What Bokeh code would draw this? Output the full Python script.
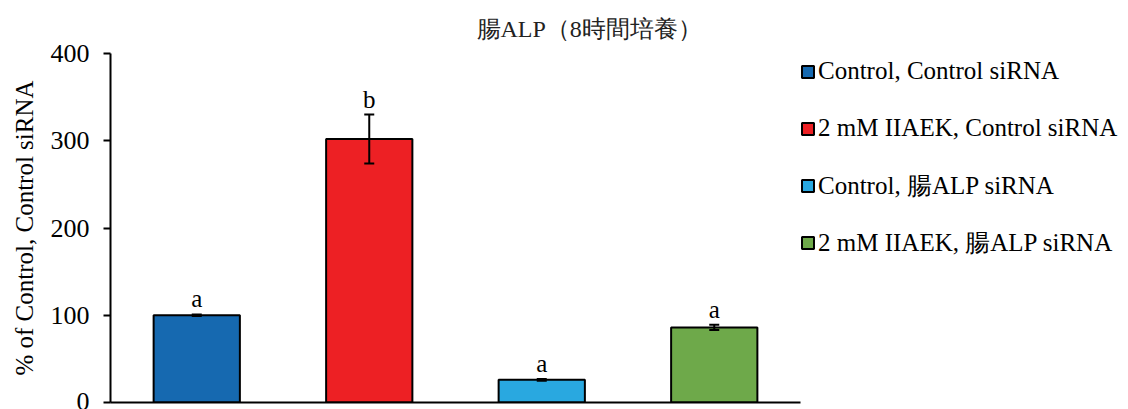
from bokeh.plotting import figure
from bokeh.models import (ColumnDataSource, Range1d, Whisker, TeeHead, Legend,
                          LegendItem, Title)
from bokeh.core.properties import value
from bokeh.embed import file_html
from bokeh.resources import INLINE

# Intestinal ALP activity after 8 h culture
groups = ["Control, Control siRNA", "2 mM IIAEK, Control siRNA",
          "Control, 腸ALP siRNA", "2 mM IIAEK, 腸ALP siRNA"]
means = [100, 302, 26, 86]
errors = [1, 28, 1, 3]
letters = ["a", "b", "a", "a"]
colors = ["#1669b0", "#ed2024", "#29a8e0", "#6ea94a"]
y_ticks = [0, 100, 200, 300, 400]

FONT = "Liberation Serif"

src = ColumnDataSource(dict(
    g=groups, m=means,
    up=[m + e for m, e in zip(means, errors)],
    lo=[m - e for m, e in zip(means, errors)],
    lab=letters, c=colors,
))

p = figure(frame_width=690, frame_height=349, x_range=groups,
           y_range=Range1d(0, 400), output_backend="svg", toolbar_location=None,
           min_border_left=110, min_border_right=0, min_border_top=53,
           min_border_bottom=7)
p.x_range.range_padding = 0
p.outline_line_color = None
p.grid.visible = False
p.background_fill_color = "white"
p.border_fill_color = "white"

p.title = Title(text="腸ALP（8時間培養）", align="left", offset=366,
                text_font=FONT, text_font_size="24px", text_font_style="normal",
                text_color="#222222", standoff=23)

bars = p.vbar(x="g", top="m", width=0.5, source=src, fill_color="c",
              line_color="black", line_width=2)

p.add_layout(Whisker(base="g", upper="up", lower="lo", source=src,
                     level="annotation", line_color="black", line_width=2,
                     upper_head=TeeHead(size=10, line_width=2, line_color="black"),
                     lower_head=TeeHead(size=10, line_width=2, line_color="black")))

p.text(x="g", y="up", text="lab", source=src, text_align="center",
       text_baseline="bottom", y_offset=-2, text_font=value(FONT),
       text_font_size="25px", text_color="black")

# y axis
p.yaxis.ticker = y_ticks
p.yaxis.axis_label = "% of Control, Control siRNA"
p.yaxis.axis_label_text_font = FONT
p.yaxis.axis_label_text_font_size = "25px"
p.yaxis.axis_label_text_font_style = "normal"
p.yaxis.axis_label_text_color = "black"
p.yaxis.axis_label_standoff = 10
p.yaxis.major_label_text_font = FONT
p.yaxis.major_label_text_font_size = "26px"
p.yaxis.major_label_text_color = "black"
p.yaxis.major_label_standoff = 14
p.yaxis.major_tick_out = 7
p.yaxis.major_tick_in = 0
p.yaxis.minor_tick_line_color = None
p.yaxis.major_tick_line_width = 2
p.yaxis.axis_line_width = 2
p.yaxis.axis_line_color = "black"
p.yaxis.major_tick_line_color = "black"

# x axis: baseline only, no category labels
p.xaxis.major_label_overrides = {g: "" for g in groups}
p.xaxis.major_label_text_font_size = "1px"
p.xaxis.major_label_text_color = None
p.xaxis.major_label_standoff = 0
p.xaxis.major_tick_line_color = None
p.xaxis.minor_tick_line_color = None
p.xaxis.axis_line_width = 2
p.xaxis.axis_line_color = "black"

items = [LegendItem(label=g, renderers=[bars], index=i) for i, g in enumerate(groups)]
legend = Legend(items=items, location="top_left", orientation="vertical",
                label_text_font=FONT, label_text_font_size="25px",
                label_text_color="black", glyph_width=15, glyph_height=15,
                label_height=36, spacing=21, padding=0, margin=0,
                label_standoff=3, border_line_color=None,
                background_fill_alpha=0)
p.add_layout(legend, "right")

open("out.html", "w").write(file_html(p, INLINE))
